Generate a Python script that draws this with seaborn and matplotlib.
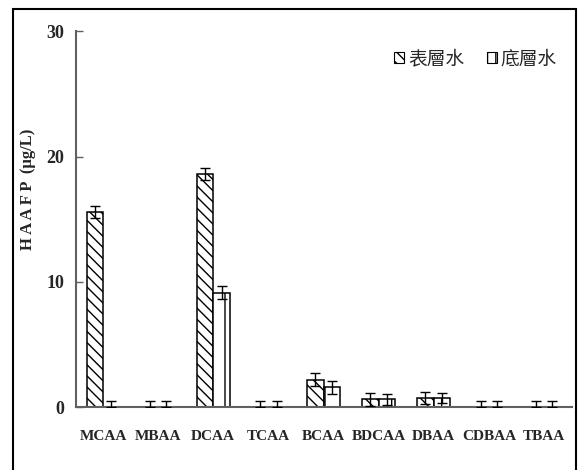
import numpy as np
import pandas as pd
import matplotlib
matplotlib.use("Agg")
import matplotlib.pyplot as plt
from matplotlib.patches import Patch, Rectangle
import seaborn as sns

categories = ["MCAA", "MBAA", "DCAA", "TCAA", "BCAA", "BDCAA", "DBAA", "CDBAA", "TBAA"]
groups = ["表層水", "底層水"]
surface = [15.6, 0, 18.6, 0, 2.2, 0.64, 0.75, 0, 0]
surface_err = [0.5, 0.5, 0.5, 0.5, 0.5, 0.5, 0.5, 0.5, 0.5]
bottom = [0, 0, 9.15, 0, 1.6, 0.64, 0.75, 0, 0]
bottom_err = [0.5, 0.5, 0.5, 0.5, 0.5, 0.45, 0.4, 0.5, 0.5]
yticks = [0, 10, 20, 30]

sns.set_style("white")
plt.rcParams["hatch.linewidth"] = 1.0

df = pd.DataFrame({
    "category": categories * 2,
    "group": [groups[0]] * len(categories) + [groups[1]] * len(categories),
    "value": surface + bottom,
})

fig = plt.figure(figsize=(5.78, 4.70), dpi=100)
ax = fig.add_axes([75.5 / 578, 1 - 407.3 / 470, 496 / 578, 376 / 470])

sns.barplot(data=df, x="category", y="value", hue="group", order=categories,
            hue_order=groups, width=0.6, errorbar=None, ax=ax,
            palette=["white", "white"], edgecolor="black", linewidth=1.1,
            legend=False)

hatches = ["\\\\\\", "|"]
errs = [surface_err, bottom_err]
vals = [surface, bottom]
bar_groups = list(ax.containers)
for gi, cont in enumerate(bar_groups):
    xs, ys, lo = [], [], []
    for bi, bar in enumerate(cont):
        bar.set_hatch(hatches[gi])
        xs.append(bar.get_x() + bar.get_width() / 2)
        ys.append(vals[gi][bi])
        lo.append(min(errs[gi][bi], vals[gi][bi]))
    ax.errorbar(xs, ys, yerr=[lo, errs[gi]], fmt="none", ecolor="black",
                elinewidth=1.0, capsize=3.3, capthick=1.0, zorder=5)

ax.set_xlim(-0.5, len(categories) - 0.5)
ax.set_ylim(0, 30)
ax.set_yticks(yticks)
ax.set_xticks(np.arange(len(categories)))
ax.set_xticks(np.arange(len(categories)) + 0.5, minor=True)
ax.set_xticklabels(categories, fontfamily="Liberation Serif", fontweight="bold", fontsize=11)
ax.set_yticklabels([str(t) for t in yticks], fontfamily="Liberation Serif", fontweight="bold", fontsize=13)
ax.tick_params(axis="x", which="major", length=0, pad=16)
ax.tick_params(axis="x", which="minor", direction="in", length=4, width=1, color="#606060")
ax.tick_params(axis="y", direction="in", length=5, width=1, color="#606060", pad=8, left=True)
ax.set_xlabel("")
ax.set_ylabel("")
for s in ["top", "right"]:
    ax.spines[s].set_visible(False)
for s in ["left", "bottom"]:
    ax.spines[s].set_color("#606060")
    ax.spines[s].set_linewidth(1.5)

fig.text(28 / 578, 1 - 189 / 470, "H A A F P  (μg/L)", rotation=90, ha="center", va="center",
         fontfamily="Liberation Serif", fontweight="bold", fontsize=12)

handles = [Patch(facecolor="white", edgecolor="black", hatch=hatches[0], linewidth=0.8),
           Patch(facecolor="white", edgecolor="black", hatch="||", linewidth=0.8)]
ax.legend(handles, groups, loc="upper right", bbox_to_anchor=(1.005, 1.0), ncol=2,
          frameon=False, handlelength=0.55, handleheight=0.55, handletextpad=0.2,
          columnspacing=1.2, prop={"family": ["Noto Sans CJK TC", "DejaVu Sans"], "size": 13.5})

fig.patches.append(Rectangle((13 / 578, -0.05), (576 - 13) / 578, 1.05 - 9 / 470,
                             transform=fig.transFigure, fill=False, edgecolor="black",
                             linewidth=1.5, zorder=0))

fig.savefig("out.png", dpi=100)
